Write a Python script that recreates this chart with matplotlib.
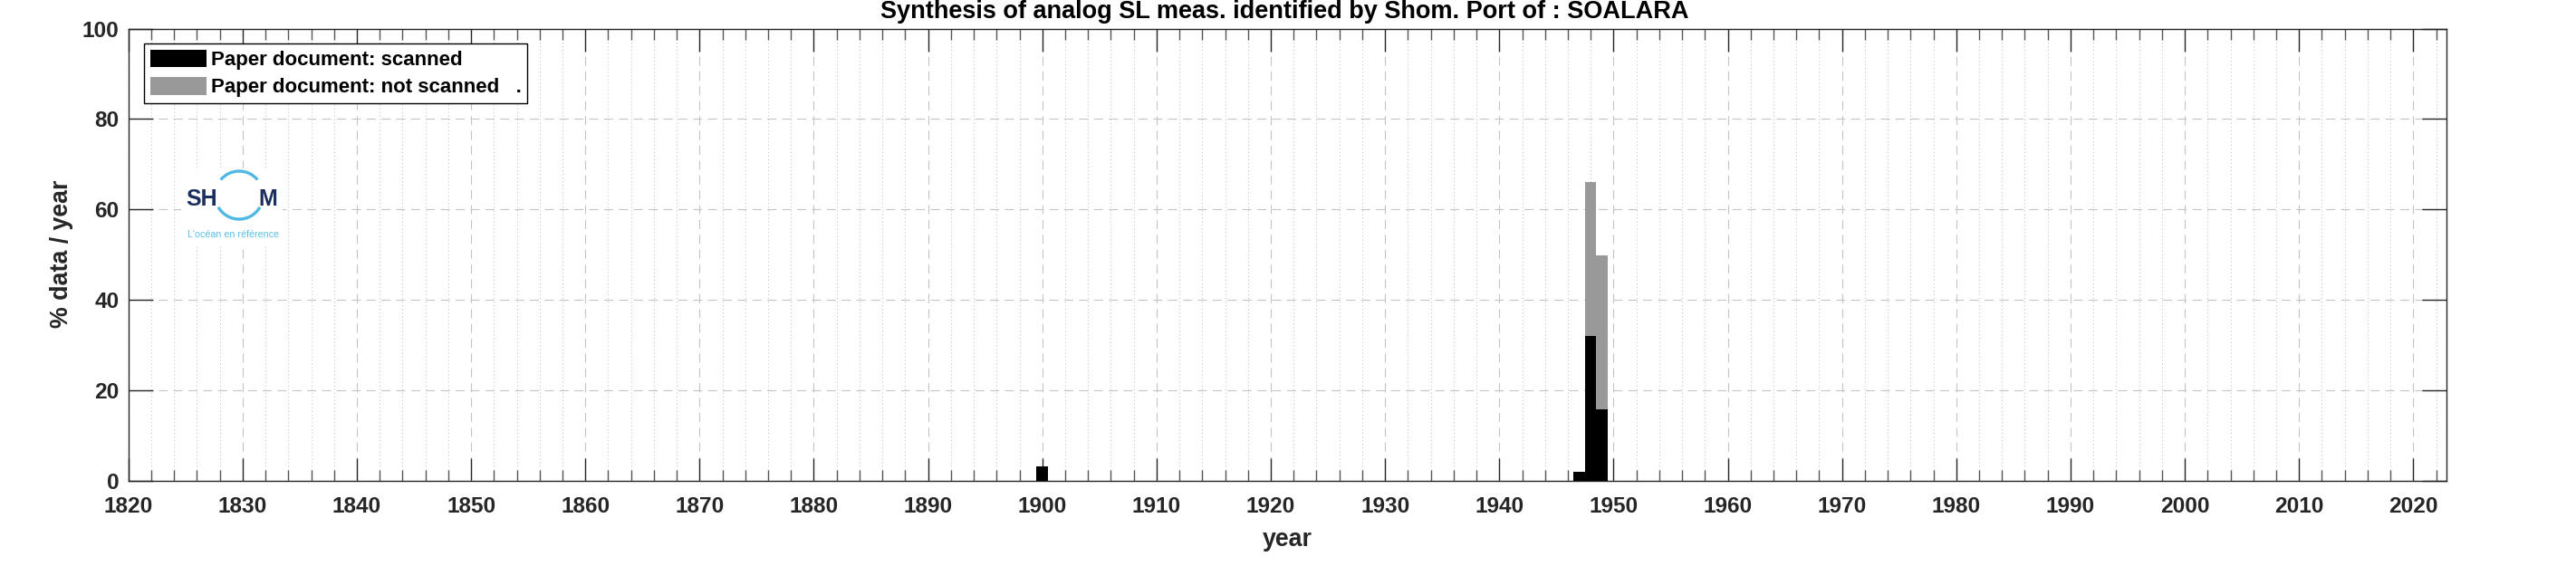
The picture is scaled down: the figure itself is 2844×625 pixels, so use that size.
import matplotlib
matplotlib.use('Agg')
import matplotlib.pyplot as plt
from matplotlib.patches import Arc, Rectangle, Patch
from matplotlib.ticker import MultipleLocator, FixedLocator

# ---------------- data ----------------
years = [1900, 1947, 1948, 1949]
scanned = [3.2, 2.0, 32.0, 15.8]
not_scanned = [0.0, 0.0, 34.1, 34.1]
legend_labels = ['Paper document: scanned', 'Paper document: not scanned   .']
title_text = 'Synthesis of analog SL meas. identified by Shom. Port of : SOALARA'
x_label = 'year'
y_label = '% data / year'
xticks = list(range(1820, 2021, 10))
yticks = [0, 20, 40, 60, 80, 100]

# ---------------- style ----------------
plt.rcParams['font.family'] = ['Liberation Sans', 'DejaVu Sans']
plt.rcParams['font.weight'] = 'bold'
plt.rcParams['lines.scale_dashes'] = False

W, H = 2844, 625
fig = plt.figure(figsize=(W / 100, H / 100), dpi=100)
L, R, T, B = 141.7, 2701.3, 31.7, 530.5
ax = fig.add_axes([L / W, 1 - B / H, (R - L) / W, (B - T) / H])

TXT = '#262626'
GRAY = '#999999'

ax.bar(years, scanned, width=1.0, color='black', linewidth=0, zorder=3)
ax.bar(years, not_scanned, width=1.0, bottom=scanned, color=GRAY, linewidth=0, zorder=3)

ax.set_xlim(1820, 2022.93)
ax.set_ylim(0, 100)
ax.xaxis.set_major_locator(FixedLocator(xticks))
ax.xaxis.set_minor_locator(MultipleLocator(2))
ax.yaxis.set_major_locator(FixedLocator(yticks))
ax.set_xticklabels([str(v) for v in xticks])
ax.set_yticklabels([str(v) for v in yticks])

ax.tick_params(axis='x', which='major', direction='in', top=True, bottom=True,
               length=18, width=1.0, color=TXT, labelsize=17.6, labelcolor=TXT, pad=12.3)
ax.tick_params(axis='x', which='minor', direction='in', top=True, bottom=True,
               length=8.6, width=1.0, color='#555555')
ax.tick_params(axis='y', which='major', direction='in', left=True, right=True,
               length=19.2, width=1.0, color=TXT, labelsize=17.6, labelcolor=TXT, pad=7.2)
for lab in ax.get_xticklabels() + ax.get_yticklabels():
    lab.set_fontweight('bold')

for s in ax.spines.values():
    s.set_color(TXT)
    s.set_linewidth(1.0)

ax.set_axisbelow(True)
ax.grid(which='major', axis='both', color='#c4c4c4', linewidth=0.8,
        linestyle=(0, (7.2, 4.6)))
ax.grid(which='minor', axis='x', color='#c4c4c4', linewidth=0.8,
        linestyle=(0, (0.8, 2.1)))

# labels
fig.text(971.7 / W, 1 - 20.0 / H, title_text, ha='left', va='baseline',
         fontsize=19.5, fontweight='bold', color='black')
fig.text(1421.5 / W, 1 - 602.7 / H, x_label, ha='center', va='baseline',
         fontsize=19.25, fontweight='bold', color=TXT)
fig.text(68 / W, 1 - 280 / H, y_label, ha='center', va='center', rotation=90,
         fontsize=19.25, fontweight='bold', color=TXT)

# legend
handles = [Patch(facecolor='black', edgecolor='none'),
           Patch(facecolor=GRAY, edgecolor='none')]
leg = ax.legend(handles, legend_labels, loc='upper left',
                bbox_to_anchor=((159.3 - L) / (R - L), 1 - (48.3 - T) / (B - T)),
                borderaxespad=0, fancybox=False, framealpha=1, edgecolor='black',
                prop={'size': 16, 'weight': 'bold'}, handlelength=2.8,
                handleheight=0.98, handletextpad=0.24, labelspacing=0.36,
                borderpad=0.28)
leg.get_frame().set_linewidth(1.0)
leg.set_zorder(10)

# logo (drawn in pixel coordinates)
lx0, lx1, ly0, ly1 = 200, 312, 186, 272
lax = fig.add_axes([lx0 / W, 1 - ly1 / H, (lx1 - lx0) / W, (ly1 - ly0) / H], zorder=5)
lax.set_xlim(lx0, lx1)
lax.set_ylim(ly1, ly0)
lax.axis('off')
lax.add_patch(Rectangle((lx0, ly0), lx1 - lx0, ly1 - ly0, facecolor='white', edgecolor='none'))
ring = '#4fb8e3'
lax.add_patch(Arc((264, 215.5), 53, 53, theta1=220, theta2=320, color=ring, linewidth=2.4))
lax.add_patch(Arc((264, 215.5), 53, 53, theta1=30, theta2=150, color=ring, linewidth=2.4))
lax.text(205.5, 227, 'SH', ha='left', va='baseline', fontsize=18, fontweight='bold',
         color='#1b2f5e')
lax.text(285.5, 227, 'M', ha='left', va='baseline', fontsize=18, fontweight='bold',
         color='#1b2f5e')
lax.text(207, 262, "L'océan en référence", ha='left', va='baseline', fontsize=7.7,
         fontweight='normal', color='#5bbde6')

fig.savefig('out.png', dpi=100)
